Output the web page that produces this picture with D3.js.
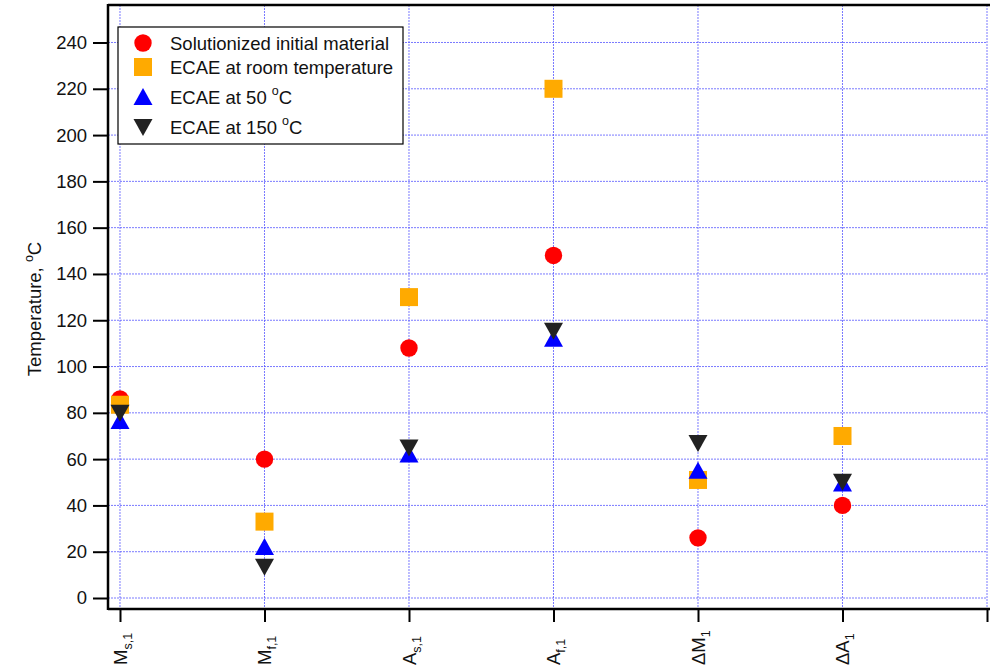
<!DOCTYPE html>
<html><head><meta charset="utf-8">
<script src="https://cdn.jsdelivr.net/npm/d3@7"></script>
<style>body{margin:0;background:#fff}svg{display:block;font-family:"Liberation Sans",Arial,sans-serif}</style>
</head><body><svg id="c" width="990" height="671"></svg>
<script>
const categories = [
  {main:"M", sub:"s,1"}, {main:"M", sub:"f,1"}, {main:"A", sub:"s,1"},
  {main:"A", sub:"f,1"}, {main:"ΔM", sub:"1"}, {main:"ΔA", sub:"1"}
];
const yTicks = [0,20,40,60,80,100,120,140,160,180,200,220,240];
const solutionized = [86, 60, 108, 148, 26, 40];
const ecaeRoom     = [83.5, 33, 130, 220, 51, 70];
const ecae50       = [76.5, 22, 62, 112, 55, 49.5];
const ecae150      = [80, 13.5, 65, 115.5, 67, 50.2];

const series = [
  {name:"Solutionized initial material", sup:null, values:solutionized, color:"#ff0000", shape:"circle"},
  {name:"ECAE at room temperature", sup:null, values:ecaeRoom, color:"#ffaa00", shape:"square"},
  {name:"ECAE at 50 ", sup:"o", tail:"C", values:ecae50, color:"#0000ff", shape:"up"},
  {name:"ECAE at 150 ", sup:"o", tail:"C", values:ecae150, color:"#222222", shape:"down"}
];

const svg = d3.select("#c");
const L=108, R=987, T=5, B=609;
const FS = 18.5;
const x = d3.scaleLinear().domain([-0.083, 6]).range([L, R]);
const y = d3.scaleLinear().domain([-4.75, 256.2]).range([B, T]);
const gridColor = "#5a5aff";

// grid
const g = svg.append("g");
g.selectAll(".hg").data(yTicks).join("line")
  .attr("x1", L).attr("x2", R).attr("y1", d=>y(d)).attr("y2", d=>y(d))
  .attr("stroke", gridColor).attr("stroke-width",1).attr("stroke-dasharray","2,1").attr("opacity",0.8);
g.selectAll(".vg").data(d3.range(0,7)).join("line")
  .attr("x1", d=>x(d)).attr("x2", d=>x(d)).attr("y1", T).attr("y2", B)
  .attr("stroke", gridColor).attr("stroke-width",1).attr("stroke-dasharray","2,1").attr("opacity",0.8);

// axes
const yAxis = d3.axisLeft(y).tickValues(yTicks).tickSize(15).tickPadding(6);
const ya = svg.append("g").attr("transform",`translate(${L},0)`).call(yAxis);
ya.select(".domain").remove();
ya.selectAll(".tick line").attr("stroke","#000").attr("stroke-width",2);
ya.selectAll(".tick text").attr("font-size",FS).attr("fill","#111").attr("font-family","Liberation Sans, Arial, sans-serif");

const xAxis = d3.axisBottom(x).tickValues(d3.range(0,7)).tickSize(13).tickFormat("");
const xa = svg.append("g").attr("transform",`translate(0,${B})`).call(xAxis);
xa.select(".domain").remove();
xa.selectAll(".tick line").attr("stroke","#000").attr("stroke-width",2);

svg.append("line").attr("x1",L).attr("x2",L).attr("y1",T-1).attr("y2",B+1).attr("stroke","#000").attr("stroke-width",2.5);
svg.append("line").attr("x1",L).attr("x2",990).attr("y1",B).attr("y2",B).attr("stroke","#000").attr("stroke-width",2.5);
svg.append("line").attr("x1",L).attr("x2",990).attr("y1",T).attr("y2",T).attr("stroke","#000").attr("stroke-width",2.5);

// x labels
categories.forEach((c,i)=>{
  const t = svg.append("text")
    .attr("transform",`translate(${x(i)+7},665) rotate(-90)`)
    .attr("font-size",FS).attr("fill","#111").attr("text-anchor","start");
  t.append("tspan").text(c.main);
  t.append("tspan").attr("font-size",12.5).attr("dy",5).text(c.sub);
});

// y title
const yt = svg.append("text").attr("transform","translate(41,309) rotate(-90)")
  .attr("text-anchor","middle").attr("font-size",FS).attr("fill","#111");
yt.append("tspan").text("Temperature, ");
yt.append("tspan").attr("font-size",12.5).attr("dy",-8).text("o");
yt.append("tspan").attr("dy",8).text("C");

// markers
function marker(sel, shape, color, cx, cy){
  if(shape==="circle") sel.append("circle").attr("cx",cx).attr("cy",cy).attr("r",8.7).attr("fill",color);
  else if(shape==="square") sel.append("rect").attr("x",cx-9).attr("y",cy-9).attr("width",18).attr("height",18).attr("fill",color);
  else if(shape==="up") sel.append("path").attr("d",`M${cx},${cy-9}L${cx+9.5},${cy+8}L${cx-9.5},${cy+8}Z`).attr("fill",color);
  else sel.append("path").attr("d",`M${cx-9.5},${cy-8}L${cx+9.5},${cy-8}L${cx},${cy+9}Z`).attr("fill",color);
}
const mg = svg.append("g");
series.forEach(s=>{
  s.values.forEach((v,i)=> marker(mg, s.shape, s.color, x(i), y(v)));
});

// legend
const lg = svg.append("g");
lg.append("rect").attr("x",118).attr("y",27).attr("width",285).attr("height",117)
  .attr("fill","#fff").attr("stroke","#000").attr("stroke-width",1.2);
const rowsY = [43, 67, 97, 127];
series.forEach((s,i)=>{
  marker(lg, s.shape, s.color, 143, rowsY[i]);
  const t = lg.append("text").attr("x",170).attr("y",rowsY[i]+7).attr("font-size",FS).attr("fill","#111");
  t.append("tspan").text(s.name);
  if(s.sup){
    t.append("tspan").attr("font-size",12.5).attr("dy",-9).text(s.sup);
    t.append("tspan").attr("dy",9).text(s.tail);
  }
});
</script></body></html>
